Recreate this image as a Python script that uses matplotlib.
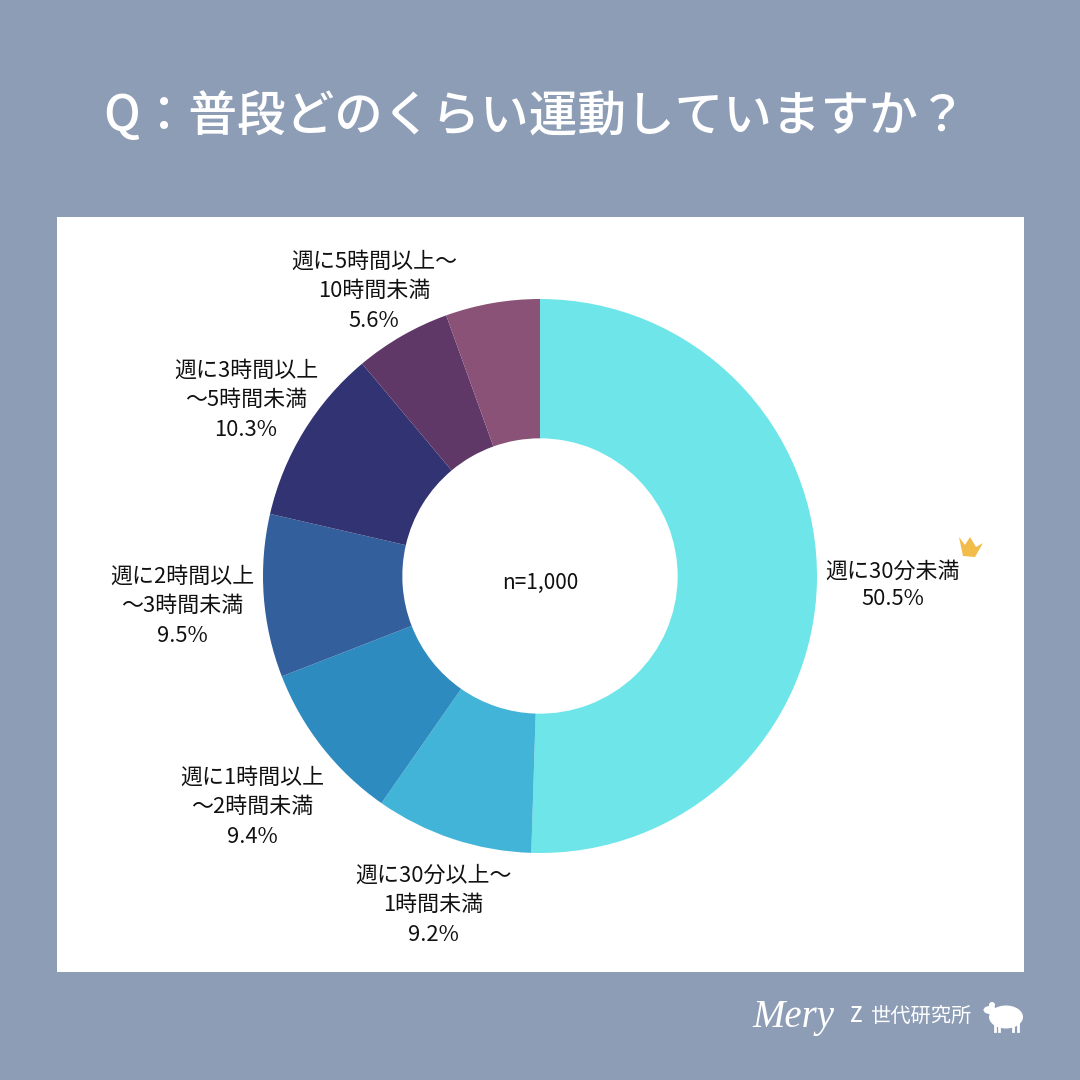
import matplotlib
matplotlib.use("Agg")
import matplotlib.pyplot as plt
from matplotlib.patches import Rectangle, Polygon, Ellipse, Circle

plt.rcParams['font.family'] = ['Noto Sans CJK JP', 'DejaVu Sans']

# last wedge has no label in the picture, it just fills up to 100
wedge_values = [50.5, 9.2, 9.4, 9.5, 10.3, 5.6, 5.5]
wedge_colors = ["#6DE5E9", "#42B4D8", "#2E8BBF", "#33609C", "#323372", "#5F3868", "#8A5276"]

labels = ["週に30分未満\n50.5%",
          "週に30分以上〜\n1時間未満\n9.2%",
          "週に1時間以上\n〜2時間未満\n9.4%",
          "週に2時間以上\n〜3時間未満\n9.5%",
          "週に3時間以上\n〜5時間未満\n10.3%",
          "週に5時間以上〜\n10時間未満\n5.6%"]
label_x = [893, 433, 252, 182, 246, 374]
label_y = [585, 905, 807, 606, 400, 291]
label_gap = [1.3, 1.45, 1.45, 1.45, 1.45, 1.45]

title = "Q：普段どのくらい運動していますか？"
bg = "#8D9DB6"

fig = plt.figure(figsize=(10.8, 10.8), dpi=100, facecolor=bg)

# pixel canvas for card, texts and decoration
can = fig.add_axes([0, 0, 1, 1])
can.set_xlim(0, 1080)
can.set_ylim(1080, 0)
can.axis("off")
can.add_patch(Rectangle((57, 217), 967, 755, fc="white", ec="none"))

can.text(535, 117, title, color="white", fontsize=35, fontweight="medium", ha="center", va="center")

for t, x, y, g in zip(labels, label_x, label_y, label_gap):
    can.text(x, y, t, color="#111111", fontsize=15.8, ha="center", va="center", linespacing=g)

# crown
can.add_patch(Polygon([(959, 537), (965, 545), (970, 537), (976, 547), (983, 543),
                       (975, 557), (963, 556)], closed=True, fc="#F2BC4A", ec="none"))

# logo
can.text(752, 1017, "Mery", color="white", fontsize=28, family="Liberation Serif", style="italic", ha="left", va="center")
can.text(850, 1016, "Z", color="white", fontsize=15, fontweight="medium", ha="left", va="center")
can.text(870, 1016, "世代研究所", color="white", fontsize=14.6, ha="left", va="center")
can.add_patch(Ellipse((1006, 1017), 34, 23, fc="white", ec="none"))
can.add_patch(Ellipse((990, 1010), 13, 8, fc="white", ec="none"))
can.add_patch(Circle((992, 1005), 3, fc="white", ec="none"))
can.plot([995, 995], [1024, 1031], color="white", lw=2)
can.plot([999, 999], [1024, 1031], color="white", lw=2)
can.plot([1013, 1013], [1024, 1031], color="white", lw=2)
can.plot([1018, 1018], [1024, 1031], color="white", lw=2)

# donut, centre 540,576 radius 277
ax = fig.add_axes([263 / 1080, 1 - (576 + 277) / 1080, 554 / 1080, 554 / 1080])
ax.patch.set_alpha(0)
ax.pie(wedge_values, colors=wedge_colors, startangle=90, counterclock=False, radius=1,
       wedgeprops=dict(width=0.503, edgecolor="none"))
ax.set_xlim(-1, 1)
ax.set_ylim(-1, 1)
ax.text(0, -0.025, "n=1,000", color="#111111", fontsize=15, ha="center", va="center")

fig.savefig("out.png", dpi=100, facecolor=bg)
